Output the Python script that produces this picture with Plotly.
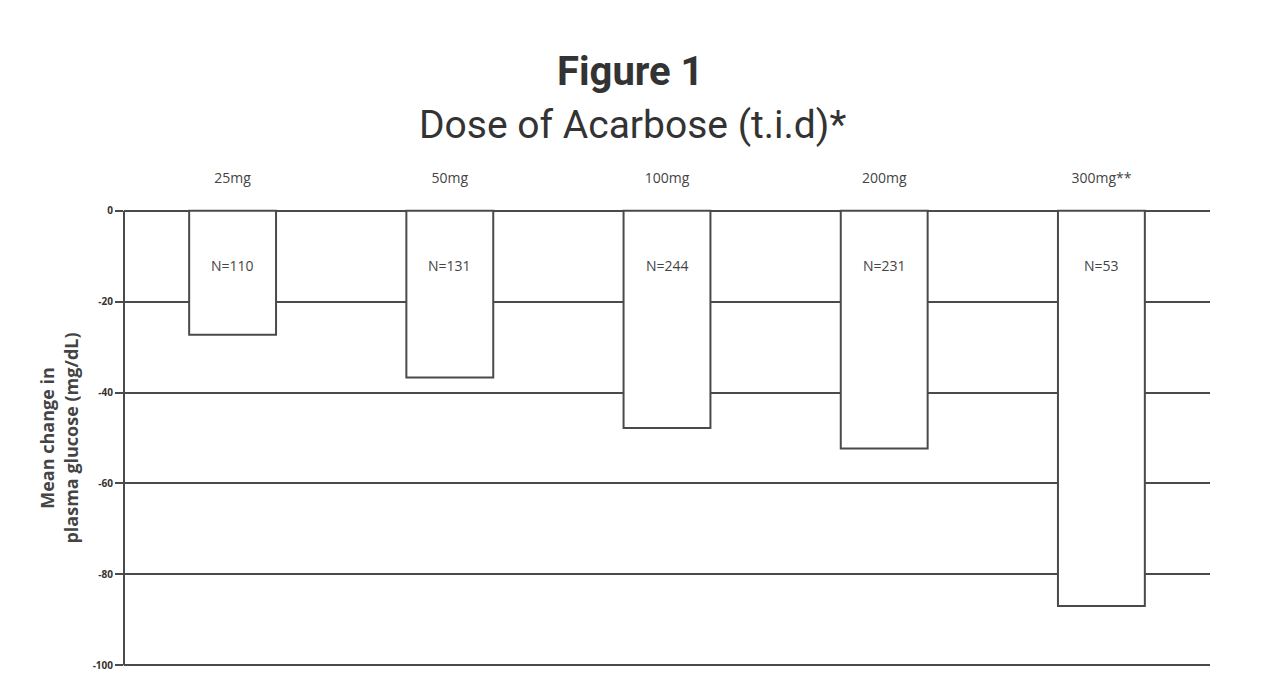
import plotly.graph_objects as go

doses = ["25mg", "50mg", "100mg", "200mg", "300mg**"]
mean_change = [-27.3, -36.7, -47.8, -52.3, -87.0]
n_labels = ["N=110", "N=131", "N=244", "N=231", "N=53"]
y_ticks = [0, -20, -40, -60, -80, -100]

ink = "#4a4a4a"
L, R, T, B = 116, 73, 201, 22

fig = go.Figure()
fig.add_trace(go.Bar(
    x=doses, y=mean_change, base=0,
    marker=dict(color="white", line=dict(color=ink, width=2)),
    width=0.4, showlegend=False, hoverinfo="skip",
))

for d, n in zip(doses, n_labels):
    fig.add_annotation(x=d, y=-12, text=n, showarrow=False,
                       font=dict(family="Open Sans", size=14, color="#444"))

fig.update_layout(
    width=1275, height=681,
    paper_bgcolor="white", plot_bgcolor="white",
    margin=dict(l=L, r=R, t=T, b=B),
    font=dict(family="Open Sans", color="#333"),
)

pw = 1275 - L - R
top_page = T + 8
fig.add_annotation(text="<b>Figure 1</b>", xref="paper", yref="paper",
                   x=(622 - L) / pw, y=1, yanchor="middle",
                   yshift=top_page - 71, showarrow=False,
                   font=dict(family="Roboto", size=40, color="#333"))
fig.add_annotation(text="Dose of Acarbose (t.i.d)*", xref="paper", yref="paper",
                   x=(624 - L) / pw, y=1, yanchor="middle",
                   yshift=top_page - 125, showarrow=False,
                   font=dict(family="Roboto", size=39, color="#333"))

fig.update_xaxes(
    side="top", showgrid=False, showline=False, zeroline=False,
    ticks="", ticklabelstandoff=22,
    tickfont=dict(family="Open Sans", size=14, color="#444"),
)
fig.update_yaxes(
    range=[-100.4, 0.4], tickvals=y_ticks,
    ticktext=["<b>%d</b>" % v for v in y_ticks],
    showgrid=True, gridcolor=ink, gridwidth=2,
    zeroline=False, showline=False,
    ticks="outside", ticklen=8, tickcolor=ink, tickwidth=2,
    tickfont=dict(family="Open Sans", size=10, color="#333"),
    title=dict(text="<b>Mean change in<br>plasma glucose (mg/dL)</b>",
               font=dict(family="Open Sans", size=18, color="#444"), standoff=9),
)

# left axis line spanning 0 to -100
fig.add_shape(type="line", xref="paper", yref="y", x0=0, x1=0,
              y0=y_ticks[0], y1=y_ticks[-1], line=dict(color=ink, width=2))

fig.write_html("out.html")
